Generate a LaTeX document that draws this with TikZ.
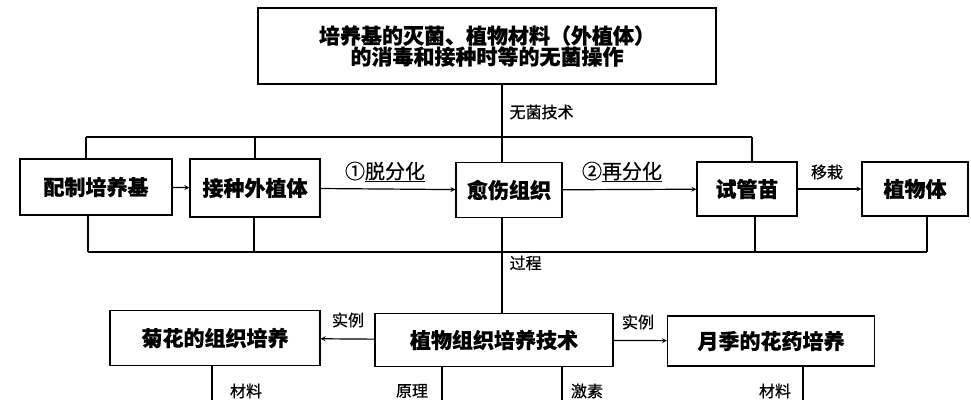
\documentclass[tikz,border=0pt]{standalone}
\usepackage{fontspec}
\setmainfont{Noto Sans CJK SC}[FakeBold=0.6]
\begin{document}
\begin{tikzpicture}[x=1pt,y=-1pt,line width=1.2pt,
 bx/.style={draw,minimum height=#1,inner sep=1pt,font=\fontsize{21}{24}\selectfont\bfseries},
 lb/.style={font=\fontsize{16}{18}\selectfont,inner sep=1pt},
 ar/.style={->,>=stealth}]
\clip (0,0) rectangle (971,400);
\node[bx=76pt,minimum width=458pt,align=center] (top) at (487,46) {培养基的灭菌、植物材料（外植体）\\[-3pt]的消毒和接种时等的无菌操作};
\node[bx=56pt,minimum width=152pt] (a) at (96,187) {配制培养基};
\node[bx=58pt,minimum width=130pt] (b) at (255,188) {接种外植体};
\node[bx=55pt,minimum width=106pt] (c) at (509,190) {愈伤组织};
\node[bx=54pt,minimum width=100pt] (d) at (747,189) {试管苗};
\node[bx=54pt,minimum width=106pt] (e) at (915,189) {植物体};
\node[bx=53pt,minimum width=238pt] (f) at (494,340) {植物组织培养技术};
\node[bx=55pt,minimum width=210pt] (g) at (215,338) {菊花的组织培养};
\node[bx=50pt,minimum width=207pt] (h) at (771,341) {月季的花药培养};
\coordinate (tl) at (86,137); \coordinate (tr) at (752,137);
\coordinate (bl) at (88,252); \coordinate (br) at (927,252);
\draw (top.south -| 502,0) -- (502,162);
\draw (tl) -- (tr);
\draw (tl) -- (86,159); \draw (255,137) -- (255,159); \draw (tr) -- (752,162);
\draw (bl) -- (br);
\draw (bl) -- (88,215); \draw (254,217) -- (254,252); \draw (755,216) -- (755,252); \draw (br) -- (927,216);
\draw (502,217) -- (502,313);
\draw[ar] (a) -- (b);
\draw[ar] (b) -- (c);
\draw[ar] (c) -- (d);
\draw[ar] (d) -- (e);
\draw[ar] (f) -- (g);
\draw[ar] (f) -- (h);
\draw (212,365) -- (212,400); \draw (442,366) -- (442,400); \draw (562,366) -- (562,400); \draw (803,366) -- (803,400);
\node[lb,anchor=west] at (508,112) {无菌技术};
\node[lb,anchor=west] at (508,263) {过程};
\node[lb] at (348,320) {实例};
\node[lb] at (638,322) {实例};
\node[lb] at (827,172) {移栽};
\node[lb,font=\fontsize{20}{22}\selectfont] at (385,172) {①\underline{脱分化}};
\node[lb,font=\fontsize{20}{22}\selectfont] at (622,172) {②\underline{再分化}};
\node[lb] at (246,391) {材料};
\node[lb] at (412,391) {原理};
\node[lb] at (587,391) {激素};
\node[lb] at (775,391) {材料};
\end{tikzpicture}
\end{document}
